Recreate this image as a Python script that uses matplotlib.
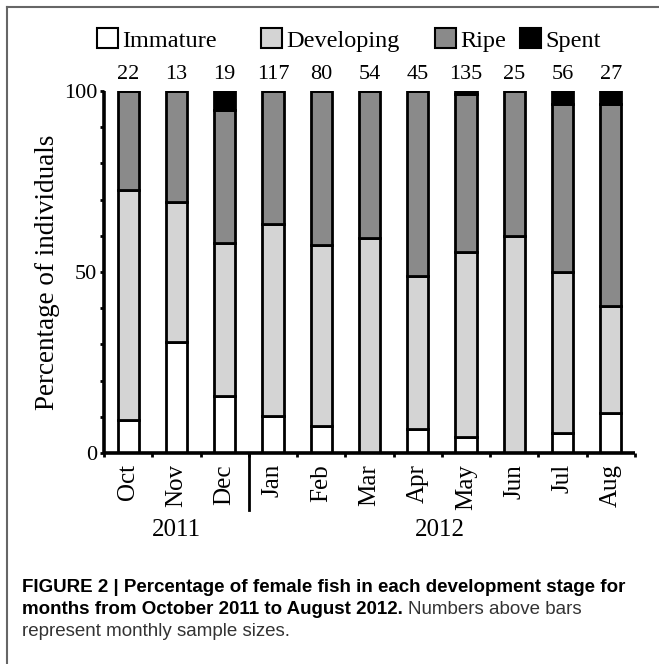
import matplotlib
matplotlib.use("Agg")
import matplotlib.pyplot as plt
from matplotlib.patches import Patch
from matplotlib.lines import Line2D
import numpy as np

# Monthly percentages of female fish in each development stage
months = ["Oct", "Nov", "Dec", "Jan", "Feb", "Mar", "Apr", "May", "Jun", "Jul", "Aug"]
sample_sizes = [22, 13, 19, 117, 80, 54, 45, 135, 25, 56, 27]
immature = [9.1, 30.8, 15.8, 10.3, 7.5, 0.0, 6.7, 4.4, 0.0, 5.4, 11.1]
developing = [63.6, 38.4, 42.1, 52.9, 50.0, 59.3, 42.2, 51.2, 60.0, 44.6, 29.6]
ripe = [27.3, 30.8, 36.8, 36.8, 42.5, 40.7, 51.1, 43.7, 40.0, 46.4, 55.6]
spent = [0.0, 0.0, 5.3, 0.0, 0.0, 0.0, 0.0, 0.7, 0.0, 3.6, 3.7]
stage_names = ["Immature", "Developing", "Ripe", "Spent"]
years = ["2011", "2012"]

colors = ["#ffffff", "#d4d4d4", "#8a8a8a", "#000000"]
serif = ["Liberation Serif", "DejaVu Serif"]
sans = ["Liberation Sans Narrow", "Liberation Sans", "DejaVu Sans"]

W, H = 659, 664
fig = plt.figure(figsize=(W / 100, H / 100), dpi=100)

# axes box in pixel terms
left, right, top, bottom = 104, 635, 91, 453
ax = fig.add_axes([left / W, 1 - bottom / H, (right - left) / W, (bottom - top) / H])

x = np.arange(len(months)) + 0.5
base = np.zeros(len(months))
for vals, col in zip([immature, developing, ripe, spent], colors):
    vals = np.asarray(vals)
    ax.bar(x, vals, width=0.44, bottom=base, color=col, edgecolor="black",
           linewidth=2.0, zorder=2)
    base = base + vals

ax.set_xlim(0, len(months))
ax.set_ylim(0, 100)

for side in ["top", "right"]:
    ax.spines[side].set_visible(False)
for side in ["left", "bottom"]:
    ax.spines[side].set_linewidth(2.6)
    ax.spines[side].set_capstyle("butt")

ax.set_yticks([0, 50, 100])
ax.set_yticklabels(["0", "50", "100"], fontfamily=serif, fontsize=16)
ax.set_yticks(np.arange(0, 101, 10), minor=True)
ax.tick_params(axis="y", which="both", direction="out", length=3, width=2, pad=2)

ax.set_xticks(x)
ax.set_xticklabels(months, rotation=90, fontfamily=serif, fontsize=18)
ax.tick_params(axis="x", which="major", length=0, pad=8)
ax.set_xticks(np.arange(0, len(months) + 1), minor=True)
ax.tick_params(axis="x", which="minor", direction="out", length=3, width=2)

ax.set_ylabel("Percentage of individuals", fontfamily=serif, fontsize=19.5, labelpad=3)

# sample sizes above bars
for xi, n in zip(x, sample_sizes):
    ax.annotate(str(n), (xi, 100), xytext=(0, 12), textcoords="offset points",
                ha="center", va="center", fontfamily=serif, fontsize=16,
                annotation_clip=False)

# divider between 2011 and 2012
trans = matplotlib.transforms.blended_transform_factory(ax.transData, ax.transAxes)
ax.add_line(Line2D([3, 3], [0, -0.157], transform=trans, color="black",
                   linewidth=2, clip_on=False))

# year labels
ax.text(1.5, -0.213, years[0], transform=trans, ha="center", va="center",
        fontfamily=serif, fontsize=18)
ax.text(6.95, -0.213, years[1], transform=trans, ha="center", va="center",
        fontfamily=serif, fontsize=18)

# legend entries placed individually
legend_x = [97, 261, 435, 520]
for name, col, lx in zip(stage_names, colors, legend_x):
    fig.legend(handles=[Patch(facecolor=col, edgecolor="black", linewidth=1.5)],
               labels=[name], loc="center left",
               bbox_to_anchor=(lx / W, 1 - 40 / H), frameon=False,
               handlelength=0.85, handleheight=0.85, handletextpad=0.2,
               borderpad=0, borderaxespad=0,
               prop={"family": serif, "size": 17.5})

# caption
cap_size = 13.5
fig.text(22 / W, 1 - 587 / H, "FIGURE 2 | Percentage of female fish in each development stage for",
         fontfamily=sans, fontweight="bold", fontsize=cap_size, va="center", ha="left")
t2 = fig.text(22 / W, 1 - 609 / H, "months from October 2011 to August 2012.",
              fontfamily=sans, fontweight="bold", fontsize=cap_size, va="center", ha="left")
fig.canvas.draw()
bb = t2.get_window_extent()
fig.text((bb.x1 + 5) / W, 1 - 609 / H, "Numbers above bars",
         fontfamily=sans, fontsize=cap_size, va="center", ha="left", color="#333333")
fig.text(22 / W, 1 - 631 / H, "represent monthly sample sizes.",
         fontfamily=sans, fontsize=cap_size, va="center", ha="left", color="#333333")

# figure frame on top and left
fig.add_artist(Line2D([7 / W, 7 / W], [0, 1 - 7 / H], color="#666666", linewidth=1.5,
                      transform=fig.transFigure))
fig.add_artist(Line2D([7 / W, 1], [1 - 7 / H, 1 - 7 / H], color="#666666", linewidth=1.5,
                      transform=fig.transFigure))

fig.savefig("out.png", dpi=100)
